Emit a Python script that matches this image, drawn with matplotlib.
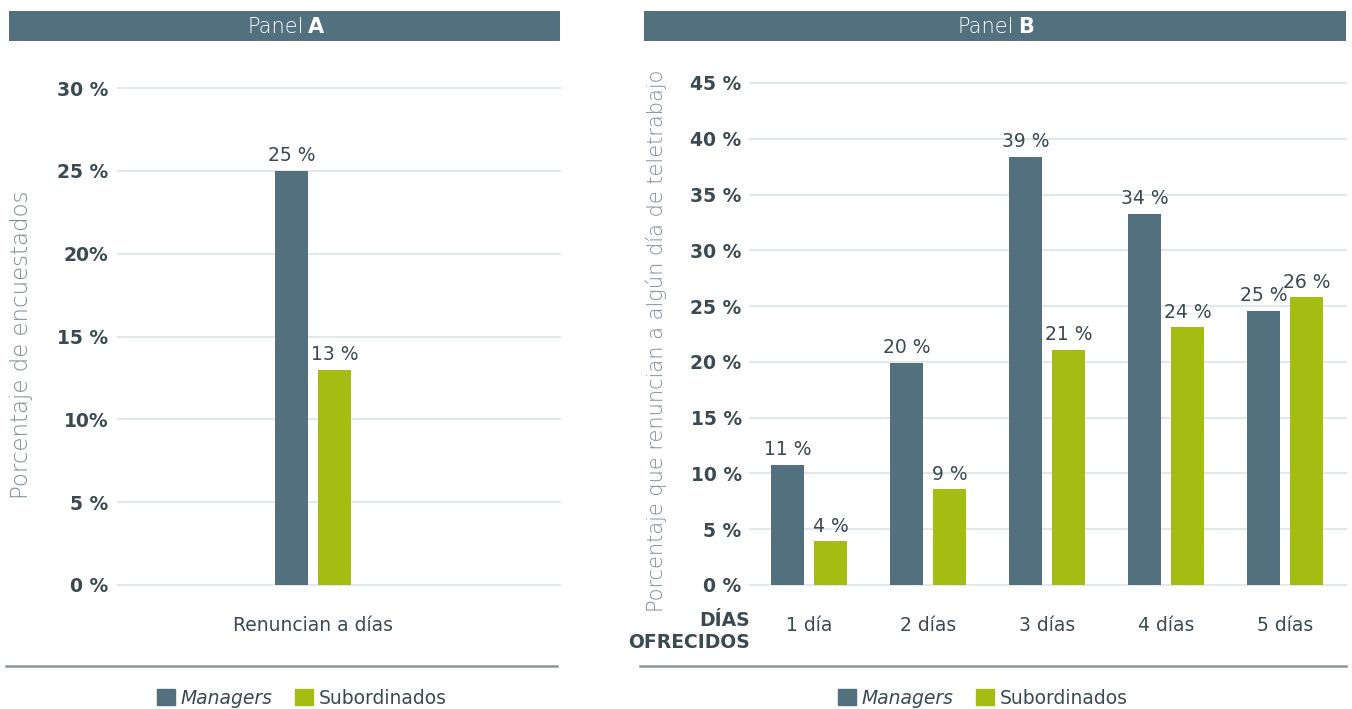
import matplotlib
matplotlib.use("Agg")
import matplotlib.pyplot as plt
from matplotlib.patches import Rectangle, Patch
from matplotlib.lines import Line2D
import numpy as np

# datos panel A
cat_a = ["Renuncian a días"]
managers_a = [25.0]
subord_a = [13.0]
labels_man_a = ["25 %"]
labels_sub_a = ["13 %"]
yticks_a = [0, 5, 10, 15, 20, 25, 30]
yticklabels_a = ["0 %", "5 %", "10%", "15 %", "20%", "25 %", "30 %"]

# datos panel B
cat_b = ["1 día", "2 días", "3 días", "4 días", "5 días"]
managers_b = [10.8, 19.9, 38.4, 33.3, 24.6]
subord_b = [3.9, 8.6, 21.1, 23.1, 25.8]
labels_man_b = ["11 %", "20 %", "39 %", "34 %", "25 %"]
labels_sub_b = ["4 %", "9 %", "21 %", "24 %", "26 %"]
yticks_b = [0, 5, 10, 15, 20, 25, 30, 35, 40, 45]
yticklabels_b = ["0 %", "5 %", "10 %", "15 %", "20 %", "25 %", "30 %", "35 %", "40 %", "45 %"]

C_MAN = "#52707e"
C_SUB = "#a3bd12"
C_TXT = "#3a4a52"
C_GRID = "#e3e8ea"
C_YLAB = "#7f8b91"
FS = 13.5

W, H = 1352, 709
plt.rcParams['font.family'] = ['DejaVu Sans']
fig = plt.figure(figsize=(W / 100, H / 100), dpi=100)


def px_rect(x0, y0, x1, y1):
    return [x0 / W, 1 - y1 / H, (x1 - x0) / W, (y1 - y0) / H]


def fx(x):
    return x / W


def fy(y):
    return 1 - y / H


def panel(rect, cats, man, sub, lab_man, lab_sub, yt, ytl, ymax, xlim, pad_y):
    ax = fig.add_axes(rect)
    x = np.arange(len(cats))
    w = 0.277
    off = 0.18
    ax.bar(x - off, man, w, color=C_MAN, zorder=3)
    ax.bar(x + off, sub, w, color=C_SUB, zorder=3)
    for xi, v, t in zip(x - off, man, lab_man):
        ax.annotate(t, (xi, v), xytext=(0, 4), textcoords="offset points",
                    ha="center", va="bottom", fontsize=FS, color=C_TXT)
    for xi, v, t in zip(x + off, sub, lab_sub):
        ax.annotate(t, (xi, v), xytext=(0, 4), textcoords="offset points",
                    ha="center", va="bottom", fontsize=FS, color=C_TXT)
    ax.set_ylim(0, ymax)
    ax.set_xlim(*xlim)
    ax.set_yticks(yt)
    ax.set_yticklabels(ytl, fontsize=FS, fontweight="bold", color=C_TXT)
    ax.set_xticks(x)
    ax.set_xticklabels(cats, fontsize=FS, color=C_TXT)
    ax.tick_params(axis="y", length=0, pad=pad_y)
    ax.tick_params(axis="x", length=0, pad=22)
    ax.grid(axis="y", color=C_GRID, lw=1.5, zorder=0)
    for ln in ax.get_ygridlines():
        ln.set_clip_on(False)
    for s in ax.spines.values():
        s.set_visible(False)
    return ax


# Panel A
ppu = 119.0
ax_a = panel(px_rect(118, 88, 560, 585), cat_a, managers_a, subord_a,
             labels_man_a, labels_sub_a, yticks_a, yticklabels_a, 30,
             (-(313 - 118) / ppu, (560 - 313) / ppu), 7)
# Panel B
ax_b = panel(px_rect(750, 83, 1346, 585), cat_b, managers_b, subord_b,
             labels_man_b, labels_sub_b, yticks_b, yticklabels_b, 45,
             (-(809 - 750) / ppu, (1346 - 809) / ppu), 6)

# cabeceras
for (x0, x1, split, letter) in [(9, 560, 306, "A"), (644, 1346, 1016, "B")]:
    fig.add_artist(Rectangle((fx(x0), fy(41)), (x1 - x0) / W, 30 / H,
                             transform=fig.transFigure, color=C_MAN, lw=0))
    fig.text(fx(split - 2), fy(27), "Panel", ha="right", va="center",
             fontsize=15, color="white", fontweight="light")
    fig.text(fx(split + 2), fy(27), letter, ha="left", va="center",
             fontsize=15, color="white", fontweight="bold")

# titulos eje y
fig.text(fx(22), fy(345), "Porcentaje de encuestados", rotation=90,
         ha="center", va="center", fontsize=16.5, color=C_YLAB, fontweight="light")
fig.text(fx(656), fy(341), "Porcentaje que renuncian a algún día de teletrabajo",
         rotation=90, ha="center", va="center", fontsize=15, color=C_YLAB,
         fontweight="light")

fig.text(fx(750), fy(621), "DÍAS", ha="right", va="center", fontsize=FS,
         fontweight="bold", color=C_TXT)
fig.text(fx(750), fy(642), "OFRECIDOS", ha="right", va="center", fontsize=FS,
         fontweight="bold", color=C_TXT)

# separadores
fig.add_artist(Line2D([fx(6), fx(557)], [fy(666), fy(666)], color="#8a9599", lw=1.8))
fig.add_artist(Line2D([fx(640), fx(1346)], [fy(666), fy(666)], color="#8a9599", lw=1.8))

# leyendas
handles = [Patch(color=C_MAN, label="Managers"), Patch(color=C_SUB, label="Subordinados")]
for cx in (302, 983):
    leg = fig.legend(handles=handles, loc="center", bbox_to_anchor=(fx(cx), fy(698)),
                     ncol=2, frameon=False, fontsize=FS, handlelength=0.95,
                     handleheight=0.95, handletextpad=0.3, columnspacing=1.2,
                     labelcolor=C_TXT)
    leg.get_texts()[0].set_style("italic")

fig.savefig("out.png", dpi=100)
